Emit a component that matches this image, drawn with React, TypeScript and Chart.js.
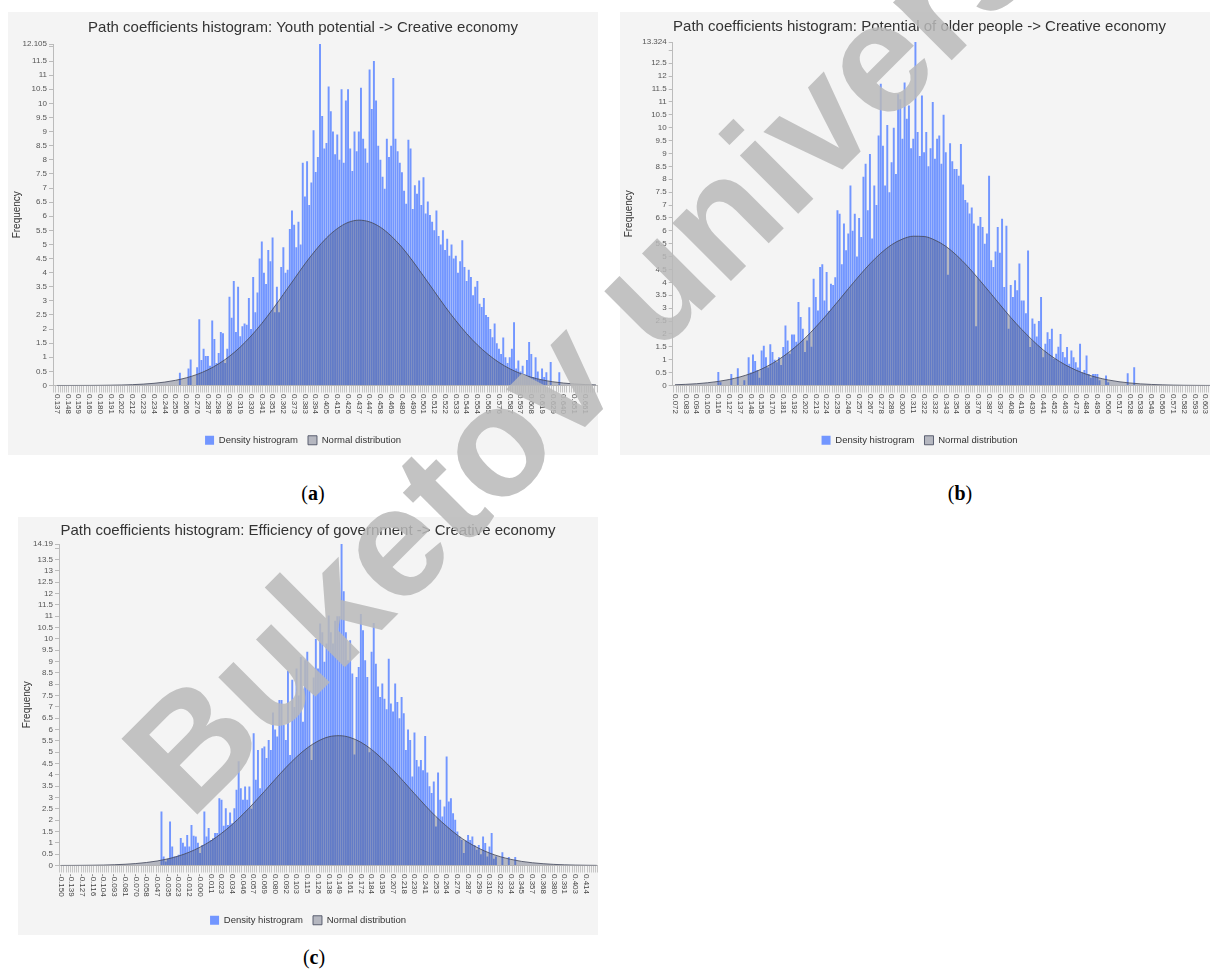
import React, { useEffect, useRef } from 'react';
import { Chart, registerables } from 'chart.js';
Chart.register(...registerables);

const FONT = '"Liberation Sans", Arial, sans-serif';
Chart.defaults.font.family = FONT;

// ---------- Panel (a): Youth potential ----------
const titleA = 'Path coefficients histogram: Youth potential -> Creative economy';
const ticksA = ['0.137','0.148','0.159','0.169','0.180','0.191','0.202','0.212','0.223','0.234','0.244','0.255','0.266','0.276','0.287','0.298','0.308','0.319','0.330','0.341','0.351','0.362','0.373','0.383','0.394','0.405','0.415','0.426','0.437','0.447','0.458','0.469','0.480','0.490','0.501','0.512','0.522','0.533','0.544','0.554','0.565','0.576','0.587','0.597','0.608','0.619','0.629','0.640','0.651','0.661'];
const yMaxA = 12.105;
const histStartA = 11;
const histA = [
  0, 0, 0.45, 0, 0,
  0, 0.6, 0.92, 0, 0,
  0.65, 2.35, 0.9, 1.3, 1.05,
  1.05, 0.7, 2.3, 1.65, 0.8,
  1.15, 1.9, 1.85, 0.8, 1.3,
  3.15, 2.4, 3.7, 1.9, 3.5,
  1.75, 2.1, 2.2, 2.15, 3.1,
  2.0, 3.85, 2.6, 3.3, 4.5,
  5.1, 4.0, 3.6, 4.8, 4.4,
  5.25, 2.6, 3.5, 2.6, 4.2,
  4.9, 4.0, 4.1, 5.55, 6.2,
  5.7, 4.9, 5.8, 5.0, 7.9,
  6.7, 7.95, 6.4, 7.2, 9.05,
  7.57, 8.1, 12.105, 9.55, 8.4,
  8.6, 10.6, 9.72, 9.0, 8.2,
  8.9, 8.0, 10.5, 7.9, 10.1,
  10.5, 8.4, 7.6, 9.0, 8.3,
  9.0, 10.55, 8.75, 8.4, 7.9,
  11.2, 9.8, 11.5, 10.1, 8.5,
  8.0, 7.4, 6.97, 8.75, 8.1,
  8.5, 10.9, 8.75, 8.3, 7.9,
  7.56, 6.9, 6.44, 8.71, 8.4,
  6.26, 7.1, 6.8, 7.27, 6.4,
  7.38, 6.1, 6.52, 6.04, 5.8,
  5.5, 6.2, 5.3, 5.0, 5.5,
  4.8, 5.2, 4.6, 5.0, 4.5,
  4.6, 4.0, 4.4, 5.15, 4.2,
  3.7, 4.1, 3.85, 3.2, 3.5,
  3.7, 2.9, 2.78, 3.1, 2.5,
  2.43, 2.0, 1.71, 2.2, 1.5,
  1.3, 1.12, 1.7, 1.0, 0.8,
  1.0, 1.3, 2.24, 0.6, 0.89,
  0.5, 0.7, 0.4, 0.9, 1.54,
  1.12, 0.3, 1.0, 0.5, 0.2,
  0.6, 0.3, 0.47, 0, 0.83,
  0, 0, 0, 0.47, 0,
];
const curveA = [0.001,0.001,0.002,0.003,0.006,0.011,0.018,0.030,0.049,0.078,0.121,0.184,0.273,0.394,0.557,0.769,1.035,1.363,1.753,2.20,2.70,3.23,3.77,4.31,4.80,5.23,5.56,5.78,5.86,5.80,5.61,5.30,4.90,4.41,3.88,3.34,2.80,2.30,1.84,1.44,1.10,0.818,0.595,0.424,0.294,0.199,0.132,0.086,0.054,0.033,0.020];

// ---------- Panel (b): Potential of older people ----------
const titleB = 'Path coefficients histogram: Potential of older people -> Creative economy';
const ticksB = ['0.072','0.083','0.094','0.105','0.116','0.127','0.137','0.148','0.159','0.170','0.181','0.192','0.202','0.213','0.224','0.235','0.246','0.257','0.267','0.278','0.289','0.300','0.311','0.322','0.332','0.343','0.354','0.365','0.376','0.387','0.397','0.408','0.419','0.430','0.441','0.452','0.463','0.473','0.484','0.495','0.506','0.517','0.528','0.538','0.549','0.560','0.571','0.582','0.593','0.603'];
const yMaxB = 13.324;
const histStartB = 4;
const histB = [
  0.52, 0.13, 0, 0, 0,
  0, 0.45, 0, 0, 0.67,
  0, 0, 0.2, 0, 1.1,
  0.5, 1.2, 0.95, 0.6, 0.3,
  1.36, 1.54, 1.1, 0.7, 1.6,
  1.3, 1.0, 0.9, 1.1, 0.8,
  1.49, 2.33, 1.75, 1.23, 1.98,
  1.98, 1.7, 3.24, 2.66, 2.2,
  1.3, 1.75, 3.04, 1.5, 4.14,
  3.43, 2.91, 4.6, 4.7, 3.3,
  4.4, 2.9, 3.95, 3.9, 4.2,
  6.8, 6.66, 4.7, 6.28, 5.25,
  5.9, 7.76, 6.0, 6.66, 5.0,
  6.5, 5.76, 8.1, 8.6, 6.8,
  8.98, 5.7, 7.76, 7.0, 9.7,
  11.7, 9.3, 7.76, 10.1, 7.5,
  8.66, 10.0, 8.2, 11.3, 11.1,
  9.57, 11.75, 10.35, 10.86, 9.2,
  9.57, 13.324, 9.83, 8.9, 11.25,
  9.05, 9.83, 8.5, 9.2, 11.0,
  8.8, 9.57, 9.7, 8.6, 10.5,
  9.05, 4.3, 9.4, 8.7, 8.4,
  8.4, 8.14, 9.37, 7.8, 7.2,
  7.1, 6.67, 6.9, 6.28, 2.3,
  6.2, 6.54, 6.15, 5.5, 5.9,
  8.14, 4.86, 4.6, 5.2, 6.15,
  5.15, 6.47, 3.82, 6.2, 2.2,
  3.9, 3.43, 4.08, 3.69, 4.73,
  3.3, 3.3, 2.8, 5.24, 1.49,
  2.6, 2.4, 1.9, 2.5, 3.43,
  1.1, 1.62, 2.07, 1.8, 2.2,
  1.04, 1.23, 1.5, 2.0, 1.3,
  1.1, 1.49, 0.84, 1.36, 1.1,
  0.9, 0.7, 1.62, 0.5, 0.6,
  1.16, 0.45, 0.3, 0.45, 0.45,
  0.45, 0.2, 0, 0, 0.39,
  0.13, 0, 0, 0, 0,
  0, 0, 0, 0, 0.48,
  0, 0, 0.71, 0, 0,
];
const curveB = [0.028,0.045,0.069,0.106,0.158,0.232,0.332,0.465,0.639,0.858,1.13,1.455,1.835,2.27,2.74,3.24,3.75,4.25,4.72,5.13,5.46,5.68,5.79,5.78,5.64,5.40,5.05,4.63,4.15,3.65,3.14,2.64,2.18,1.76,1.38,1.07,0.81,0.60,0.435,0.309,0.215,0.146,0.097,0.063,0.041,0.025,0.015,0.009,0.005,0.003,0.002];

// ---------- Panel (c): Efficiency of government ----------
const titleC = 'Path coefficients histogram: Efficiency of government -> Creative economy';
const ticksC = ['-0.150','-0.139','-0.127','-0.116','-0.104','-0.093','-0.081','-0.070','-0.058','-0.047','-0.035','-0.023','-0.012','-0.000','0.011','0.023','0.034','0.046','0.057','0.069','0.080','0.092','0.103','0.115','0.126','0.138','0.149','0.161','0.172','0.184','0.195','0.207','0.218','0.230','0.241','0.253','0.264','0.276','0.287','0.299','0.310','0.322','0.334','0.345','0.357','0.368','0.380','0.391','0.403','0.414'];
const yMaxC = 14.19;
const histStartC = 9;
const histC = [
  0, 0, 2.38, 0.4, 0.18,
  0.3, 1.94, 0.84, 0.4, 0.4,
  0.47, 1.21, 1.0, 0.84, 1.35,
  0.84, 1.79, 1.31, 1.28, 1.0,
  0.55, 0.9, 2.38, 1.28, 1.65,
  1.13, 1.2, 1.43, 1.43, 2.97,
  2.9, 1.75, 2.53, 1.79, 2.34,
  1.87, 2.53, 3.34, 4.6, 3.41,
  2.9, 3.49, 2.9, 3.49, 2.5,
  5.84, 3.78, 5.1, 3.41, 5.18,
  5.25, 4.74, 5.54, 5.1, 6.75,
  6.0, 5.69, 7.3, 7.3, 6.2,
  5.54, 8.6, 4.88, 8.2, 7.0,
  8.7, 7.5, 9.2, 6.35, 9.06,
  9.43, 7.73, 4.66, 8.3, 10.0,
  8.7, 10.68, 10.3, 8.99, 9.8,
  11.03, 10.3, 9.8, 10.8, 11.0,
  11.0, 14.19, 12.1, 10.3, 9.06,
  9.94, 8.47, 4.9, 8.32, 8.76,
  11.1, 10.38, 9.06, 8.32, 5.0,
  9.43, 10.7, 8.91, 7.9, 7.44,
  8.03, 7.36, 6.9, 9.13, 7.15,
  6.8, 8.03, 7.22, 6.5, 7.44,
  6.72, 5.1, 6.0, 5.54, 3.93,
  5.87, 4.66, 4.37, 4.66, 4.2,
  5.72, 4.1, 3.5, 3.2, 3.71,
  1.72, 4.1, 2.9, 2.16, 2.6,
  4.81, 2.82, 2.97, 2.31, 2.02,
  1.5, 1.28, 1.13, 0.55, 1.1,
  1.35, 1.13, 1.28, 0.91, 0.69,
  0.91, 0.5, 1.28, 0.99, 0.4,
  0.84, 1.43, 0.3, 0.4, 0,
  0, 0.58, 0, 0, 0.37,
  0, 0, 0.37, 0, 0,
];
const curveC = [0.002,0.004,0.007,0.012,0.020,0.034,0.054,0.086,0.132,0.199,0.293,0.42,0.59,0.81,1.08,1.42,1.81,2.26,2.75,3.27,3.80,4.32,4.79,5.19,5.49,5.68,5.73,5.65,5.44,5.12,4.70,4.22,3.70,3.17,2.65,2.16,1.73,1.34,1.02,0.76,0.55,0.39,0.27,0.18,0.12,0.079,0.049,0.030,0.018,0.011,0.006];

const watermark = 'Buketov university';

const BIN = 0.2; // five bins per labelled interval
const BLUE = 'rgb(114,150,255)';
const FILL = 'rgba(70,75,100,0.36)';
const LINE = 'rgba(70,75,95,0.85)';
const PANEL_BG = '#f4f4f4';

type PanelProps = {
  left: number; top: number; width: number; height: number;
  title: string; ticks: string[]; curve: number[]; hist: number[]; histStart: number;
  yMax: number; axisW: number; xMin: number; xMax: number;
  titlePad: { top: number; bottom: number };
};

function Panel(p: PanelProps) {
  const ref = useRef<HTMLCanvasElement>(null);
  useEffect(() => {
    if (!ref.current) return;
    const bars = p.hist.map((v, j) => ({ x: p.histStart + j * BIN, y: v }));
    const line = p.curve.map((v, i) => ({ x: i, y: v }));
    const binTicks: number[] = [];
    for (let j = Math.ceil(p.xMin / BIN); j <= Math.floor(p.xMax / BIN); j++) binTicks.push(j * BIN);
    const labels = p.ticks;
    const rotLabels = {
      id: 'rotLabels',
      afterDraw(chart: any) {
        const sc = chart.scales.x;
        const ctx = chart.ctx;
        ctx.save();
        ctx.font = `8px ${FONT}`;
        ctx.fillStyle = '#444';
        ctx.textAlign = 'left';
        ctx.textBaseline = 'middle';
        labels.forEach((lab, i) => {
          const x = sc.getPixelForValue(i);
          ctx.save();
          ctx.translate(x, sc.top + 8.5);
          ctx.rotate(Math.PI / 2);
          ctx.fillText(lab, 0, 0);
          ctx.restore();
        });
        ctx.restore();
      },
    };
    const yMax = p.yMax;
    const chart = new Chart(ref.current, {
      type: 'bar',
      data: {
        datasets: [
          {
            type: 'bar', label: 'Density histrogram', data: bars as any,
            backgroundColor: BLUE, borderWidth: 0, barPercentage: 1, categoryPercentage: 0.9, order: 2,
          } as any,
          {
            type: 'line', label: 'Normal distribution', data: line as any,
            borderColor: LINE, borderWidth: 1, backgroundColor: FILL, fill: 'origin',
            pointRadius: 0, cubicInterpolationMode: 'monotone', order: 1,
          } as any,
        ],
      },
      options: {
        responsive: false,
        animation: false,
        devicePixelRatio: 1,
        layout: { padding: 0 },
        plugins: {
          title: {
            display: true, text: p.title, color: '#333',
            font: { size: 15, weight: 'normal', family: FONT },
            padding: p.titlePad,
          },
          legend: {
            position: 'bottom',
            labels: {
              boxWidth: 9, boxHeight: 9, font: { size: 9.5 }, color: '#333', padding: 10,
              sort: (a: any, b: any) => a.datasetIndex - b.datasetIndex,
            },
          },
          tooltip: { enabled: false },
        },
        scales: {
          x: {
            type: 'linear', min: p.xMin, max: p.xMax, offset: false,
            afterBuildTicks: (s: any) => { s.ticks = binTicks.map((v) => ({ value: v })); },
            afterFit: (s: any) => { s.height = 40; },
            ticks: { display: false },
            grid: { drawOnChartArea: false, drawTicks: true, tickLength: 7, color: '#c6c6c6', lineWidth: 1 },
            border: { display: true, color: '#bbb' },
          },
          y: {
            type: 'linear', min: 0, max: yMax,
            afterBuildTicks: (s: any) => {
              const t: { value: number }[] = [];
              for (let k = 0; k * 0.5 < yMax; k++) t.push({ value: k * 0.5 });
              t.push({ value: yMax });
              s.ticks = t;
            },
            afterFit: (s: any) => { s.width = p.axisW; },
            ticks: {
              autoSkip: false, font: { size: 8 }, color: '#555', padding: 2,
              callback: (v: any) => (v === yMax ? String(yMax) : yMax - v < 0.35 ? '' : String(v)),
            },
            grid: { drawOnChartArea: false, drawTicks: true, tickLength: 4, color: '#bbb' },
            border: { display: true, color: '#bbb' },
            title: { display: true, text: 'Frequency', font: { size: 10 }, color: '#333', padding: { top: 3, bottom: 2 } },
          },
        },
      },
      plugins: [rotLabels],
    } as any);
    return () => chart.destroy();
  }, []);
  return (
    <div style={{ position: 'absolute', left: p.left, top: p.top, width: p.width, height: p.height, background: PANEL_BG }}>
      <canvas ref={ref} width={p.width} height={p.height} style={{ display: 'block', width: p.width, height: p.height }} />
    </div>
  );
}

const capStyle: React.CSSProperties = {
  position: 'absolute', width: 60, marginLeft: -30, textAlign: 'center',
  fontFamily: '"Liberation Serif", "Times New Roman", serif', fontSize: 20, lineHeight: '24px', color: '#000',
};

export default function App() {
  return (
    <div style={{ position: 'absolute', left: 0, top: 0, width: 1210, height: 975, overflow: 'hidden', background: '#fff' }}>
      <Panel left={8} top={12} width={590} height={443} title={titleA} ticks={ticksA} curve={curveA}
        hist={histA} histStart={histStartA} yMax={yMaxA} axisW={45} xMin={-0.371} xMax={50.19}
        titlePad={{ top: 7, bottom: 7 }} />
      <Panel left={620} top={12} width={599} height={443} title={titleB} ticks={ticksB} curve={curveB}
        hist={histB} histStart={histStartB} yMax={yMaxB} axisW={52.7} xMin={-0.212} xMax={50.23}
        titlePad={{ top: 6, bottom: 6 }} />
      <Panel left={18} top={517} width={580} height={418} title={titleC} ticks={ticksC} curve={curveC}
        hist={histC} histStart={histStartC} yMax={yMaxC} axisW={41} xMin={-0.159} xMax={50.12}
        titlePad={{ top: 5, bottom: 4 }} />
      <div style={{ ...capStyle, left: 313, top: 481 }}>(<b>a</b>)</div>
      <div style={{ ...capStyle, left: 960, top: 481 }}>(<b>b</b>)</div>
      <div style={{ ...capStyle, left: 314, top: 945 }}>(<b>c</b>)</div>
      <svg width={1210} height={975} style={{ position: 'absolute', left: 0, top: 0, pointerEvents: 'none' }}>
        <text x={190} y={822} transform="rotate(-45 190 822)"
          fontFamily={FONT} fontWeight="bold" fontSize={156} fill="rgba(185,185,185,0.85)">
          {watermark}
        </text>
      </svg>
    </div>
  );
}
